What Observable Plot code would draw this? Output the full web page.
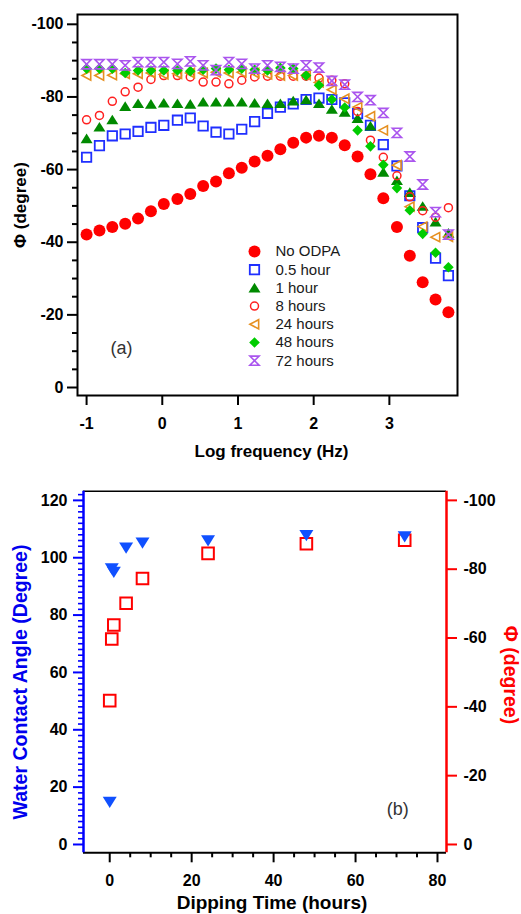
<!DOCTYPE html>
<html><head><meta charset="utf-8">
<script src="https://cdn.jsdelivr.net/npm/d3@7"></script>
<script src="https://cdn.jsdelivr.net/npm/@observablehq/plot@0.6"></script>
<style>
html,body{margin:0;padding:0;background:#fff;}
#chart svg{display:block;}
</style></head><body><div id="chart"></div>
<script>
// ---------- Panel (a): Bode phase vs log frequency ----------
const freqLog = [-1.00,-0.83,-0.66,-0.49,-0.32,-0.15,0.02,0.20,0.37,0.54,0.71,0.88,1.05,1.22,1.39,1.56,1.73,1.90,2.07,2.24,2.41,2.58,2.75,2.92,3.10,3.27,3.44,3.61,3.78];
const phiNoODPA = [-42.1,-43.2,-44.2,-45.1,-46.5,-48.5,-50.5,-51.9,-53.3,-55.5,-56.7,-59.0,-60.5,-62.2,-63.8,-65.6,-67.4,-68.8,-69.3,-68.8,-66.7,-63.6,-58.7,-52.1,-44.2,-36.3,-29.0,-24.2,-20.7];
const phi05h = [-63.4,-66.6,-69.3,-69.8,-70.5,-71.6,-72.2,-73.6,-74.2,-72.0,-70.3,-69.8,-71.1,-73.2,-75.5,-77.2,-78.1,-79.3,-79.7,-79.3,-78.4,-75.4,-72.2,-66.9,-61.0,-52.8,-44.0,-35.6,-30.8];
const phi1h = [-68.5,-71.7,-73.7,-77.4,-78.2,-78.0,-78.3,-78.2,-78.0,-78.6,-78.6,-78.6,-78.6,-78.3,-78.2,-78.2,-78.9,-79.2,-78.2,-76.6,-75.8,-74.1,-72.0,-59.3,-57.0,-53.7,-49.9,-45.6,-42.5];
const phi8h = [-73.7,-74.9,-78.8,-81.4,-82.7,-84.8,-85.9,-85.9,-85.5,-84.1,-84.1,-83.6,-84.6,-85.5,-85.7,-85.7,-85.7,-85.7,-85.2,-84.6,-83.6,-76.0,-68.1,-63.4,-58.3,-52.5,-48.7,-46.9,-49.5];
const phi24h = [-85.9,-85.9,-86.0,-86.4,-86.4,-86.6,-86.2,-86.4,-86.6,-86.6,-86.8,-86.6,-86.8,-86.6,-86.2,-85.9,-85.9,-86.0,-84.0,-82.0,-79.5,-77.2,-74.7,-70.8,-61.2,-49.8,-44.3,-41.4,-41.5];
const phi48h = [-87.8,-87.8,-87.8,-86.6,-87.3,-87.3,-87.3,-87.3,-87.1,-87.5,-87.8,-87.5,-87.8,-87.5,-87.3,-88.0,-87.8,-85.9,-83.2,-79.3,-77.1,-70.8,-66.4,-61.3,-54.9,-48.8,-42.3,-37.1,-33.1];
const phi72h = [-89.0,-89.0,-89.0,-88.7,-89.6,-89.6,-89.6,-89.1,-89.8,-88.7,-87.4,-89.6,-89.1,-87.8,-88.7,-88.3,-87.8,-88.7,-88.1,-84.4,-83.4,-80.0,-79.1,-75.6,-70.1,-63.6,-55.9,-48.3,-42.1];
const seriesLabels = ["No ODPA","0.5 hour","1 hour","8 hours","24 hours","48 hours","72 hours"];
const xTicksA = [-1,0,1,2,3];
const yTicksA = [0,-20,-40,-60,-80,-100];

// ---------- Panel (b): vs dipping time ----------
const dipTime = [0,0.5,1,4,8,24,48,72];
const contactAngle = [14.8,96.2,95.0,103.5,105.2,106.0,107.8,107.4];
const phiDip = [-41.8,-59.7,-63.8,-70.1,-77.3,-84.6,-87.4,-88.4];
const xTicksB = [0,20,40,60,80];
const yTicksB = [0,20,40,60,80,100,120];
const phiTicksB = [0,-20,-40,-60,-80,-100];

// ---------- custom symbols ----------
const rr = s => Math.sqrt(s/Math.PI);
const symSquare = {draw(c,s){const r=rr(s);c.moveTo(-r,-r);c.lineTo(r,-r);c.lineTo(r,r);c.lineTo(-r,r);c.closePath();}};
const symUp = {draw(c,s){const r=rr(s);c.moveTo(0,-0.85*r);c.lineTo(r,0.75*r);c.lineTo(-r,0.75*r);c.closePath();}};
const symDown = {draw(c,s){const r=rr(s);c.moveTo(-r,-0.75*r);c.lineTo(r,-0.75*r);c.lineTo(0,0.85*r);c.closePath();}};
const symLeft = {draw(c,s){const r=rr(s);c.moveTo(-r,0);c.lineTo(0.9*r,-r);c.lineTo(0.9*r,r);c.closePath();}};
const symDiamond = {draw(c,s){const r=rr(s);c.moveTo(0,-r);c.lineTo(r,0);c.lineTo(0,r);c.lineTo(-r,0);c.closePath();}};
const symHour = {draw(c,s){const r=rr(s);c.moveTo(-r,-r);c.lineTo(r,-r);c.lineTo(-r,r);c.lineTo(r,r);c.closePath();}};

const FONT = "'Liberation Sans', Arial, Helvetica, sans-serif";

const series = [
  {label: seriesLabels[0], values: phiNoODPA, symbol: "circle", r: 6, fill: "#ff0000", stroke: "none", sw: 0},
  {label: seriesLabels[1], values: phi05h, symbol: symSquare, r: 4.7, fill: "none", stroke: "#1f2fff", sw: 1.8},
  {label: seriesLabels[2], values: phi1h, symbol: symUp, r: 6, fill: "#008a00", stroke: "none", sw: 0},
  {label: seriesLabels[3], values: phi8h, symbol: "circle", r: 4, fill: "none", stroke: "#ff2020", sw: 1.5},
  {label: seriesLabels[4], values: phi24h, symbol: symLeft, r: 4.6, fill: "none", stroke: "#e69020", sw: 1.6},
  {label: seriesLabels[5], values: phi48h, symbol: symDiamond, r: 5.3, fill: "#00cc00", stroke: "none", sw: 0},
  {label: seriesLabels[6], values: phi72h, symbol: symHour, r: 4.6, fill: "none", stroke: "#aa55ee", sw: 1.6}
];

const yMinorA = d3.range(0, -101, -5).filter(v => v % 20 !== 0);
const tickOpts = {fontSize: 16, fontWeight: "bold", label: null};

const marksA = [];
series.forEach(s => {
  const rows = freqLog.map((f, i) => ({f, v: s.values[i]}));
  marksA.push(Plot.dot(rows, {x: "f", y: "v", symbol: s.symbol, r: s.r, fill: s.fill, stroke: s.stroke, strokeWidth: s.sw}));
});
series.forEach((s, i) => {
  marksA.push(Plot.dot([s], {frameAnchor: "top-left", dx: 177, dy: 237 + 18.2*i, symbol: s.symbol, r: s.r, fill: s.fill, stroke: s.stroke, strokeWidth: s.sw}));
  marksA.push(Plot.text([s.label], {frameAnchor: "top-left", dx: 198, dy: 237 + 18.2*i, text: d => d, textAnchor: "start", lineAnchor: "middle", fontSize: 15, fontWeight: "normal", fill: "#1a1a1a"}));
});
marksA.push(
  Plot.axisX({ticks: xTicksA, tickSize: 10, tickPadding: 12, tickFormat: d => String(d), strokeWidth: 2, ...tickOpts}),
  Plot.axisY({ticks: yTicksA, tickSize: 10, tickPadding: 4, tickFormat: d => String(d), strokeWidth: 2, ...tickOpts}),
  Plot.axisY({ticks: yMinorA, tickSize: 5, tickFormat: () => "", strokeWidth: 2, label: null}),
  Plot.frame({strokeWidth: 2}),
  Plot.text(["\u03A6 (degree)"], {frameAnchor: "left", dx: -57, rotate: -90, text: d => d, textAnchor: "middle", lineAnchor: "middle", fontSize: 17, fontWeight: "bold"}),
  Plot.text(["Log frequency (Hz)"], {frameAnchor: "bottom", dx: 4, dy: 56, text: d => d, textAnchor: "middle", lineAnchor: "middle", fontSize: 17, fontWeight: "bold"}),
  Plot.text(["(a)"], {frameAnchor: "bottom-left", dx: 44, dy: -47, text: d => d, textAnchor: "middle", lineAnchor: "middle", fontSize: 18, fill: "#333"})
);

const plotA = Plot.plot({
  width: 521, height: 465,
  marginLeft: 77, marginRight: 64, marginTop: 14, marginBottom: 70,
  style: {fontFamily: FONT, background: "white", color: "black"},
  x: {domain: [-1.12, 3.9]},
  y: {domain: [2.2, -102.7]},
  marks: marksA
});

// Panel (b): the right Φ axis is mapped onto the left scale (0 shared, -100 ↔ 120)
const toLeft = p => -p * 1.2;
const xDomB = [-6.4, 82.2];
const yDomB = [-2.9, 123.2];
const yMinorB = d3.range(0, 123, 2).filter(v => v % 20 !== 0);
const xMinorB = d3.range(0, 81, 5).filter(v => v % 20 !== 0);

const dipRows = dipTime.map((t, i) => ({t, ca: contactAngle[i], ph: toLeft(phiDip[i])}));

const plotB = Plot.plot({
  width: 521, height: 449,
  marginLeft: 83, marginRight: 75, marginTop: 25.7, marginBottom: 61.7,
  style: {fontFamily: FONT, background: "white", color: "black"},
  x: {domain: xDomB},
  y: {domain: yDomB},
  marks: [
    Plot.ruleY([yDomB[1]], {stroke: "black", strokeWidth: 1.6}),
    Plot.ruleY([yDomB[0]], {stroke: "black", strokeWidth: 2}),
    Plot.axisX({ticks: xTicksB, tickSize: 10, tickPadding: 12, tickFormat: d => String(d), strokeWidth: 2, ...tickOpts}),
    Plot.axisX({ticks: xMinorB, tickSize: 5, tickFormat: () => "", strokeWidth: 2, label: null}),
    Plot.axisY({ticks: yTicksB, tickSize: 10, tickPadding: 6, tickFormat: d => String(d), stroke: "#0000ff", strokeWidth: 2, ...tickOpts}),
    Plot.axisY({ticks: yMinorB, tickSize: 5, tickFormat: () => "", stroke: "#0000ff", strokeWidth: 1.6, label: null}),
    Plot.axisY({anchor: "right", ticks: phiTicksB.map(toLeft), tickSize: 10, tickPadding: 7, tickFormat: v => String(Math.round(-v / 1.2)), stroke: "#ff0000", strokeWidth: 2, ...tickOpts}),
    Plot.ruleX([xDomB[0]], {stroke: "#0000ff", strokeWidth: 2.5}),
    Plot.ruleX([xDomB[1]], {stroke: "#ff0000", strokeWidth: 2.5}),
    Plot.dot(dipRows, {x: "t", y: "ph", symbol: symSquare, r: 5.8, fill: "none", stroke: "#ff0000", strokeWidth: 2}),
    Plot.dot(dipRows, {x: "t", y: "ca", symbol: symDown, r: 7, fill: "#1050ff", stroke: "none"}),
    Plot.text(["Water Contact Angle (Degree)"], {frameAnchor: "left", dx: -63, dy: 10, rotate: -90, text: d => d, textAnchor: "middle", lineAnchor: "middle", fontSize: 19.5, fontWeight: "bold", fill: "#0000ee"}),
    Plot.text(["\u03A6 (degree)"], {frameAnchor: "right", dx: 64, dy: 3, rotate: 90, text: d => d, textAnchor: "middle", lineAnchor: "middle", fontSize: 19.5, fontWeight: "bold", fill: "#ff0000"}),
    Plot.text(["Dipping Time (hours)"], {frameAnchor: "bottom", dx: 7, dy: 50, text: d => d, textAnchor: "middle", lineAnchor: "middle", fontSize: 19, fontWeight: "bold"}),
    Plot.text(["(b)"], {frameAnchor: "bottom-right", dx: -48.7, dy: -44, text: d => d, textAnchor: "middle", lineAnchor: "middle", fontSize: 18, fill: "#333"})
  ]
});

const chart = document.getElementById("chart");
chart.appendChild(plotA);
chart.appendChild(plotB);
</script>
</body></html>
